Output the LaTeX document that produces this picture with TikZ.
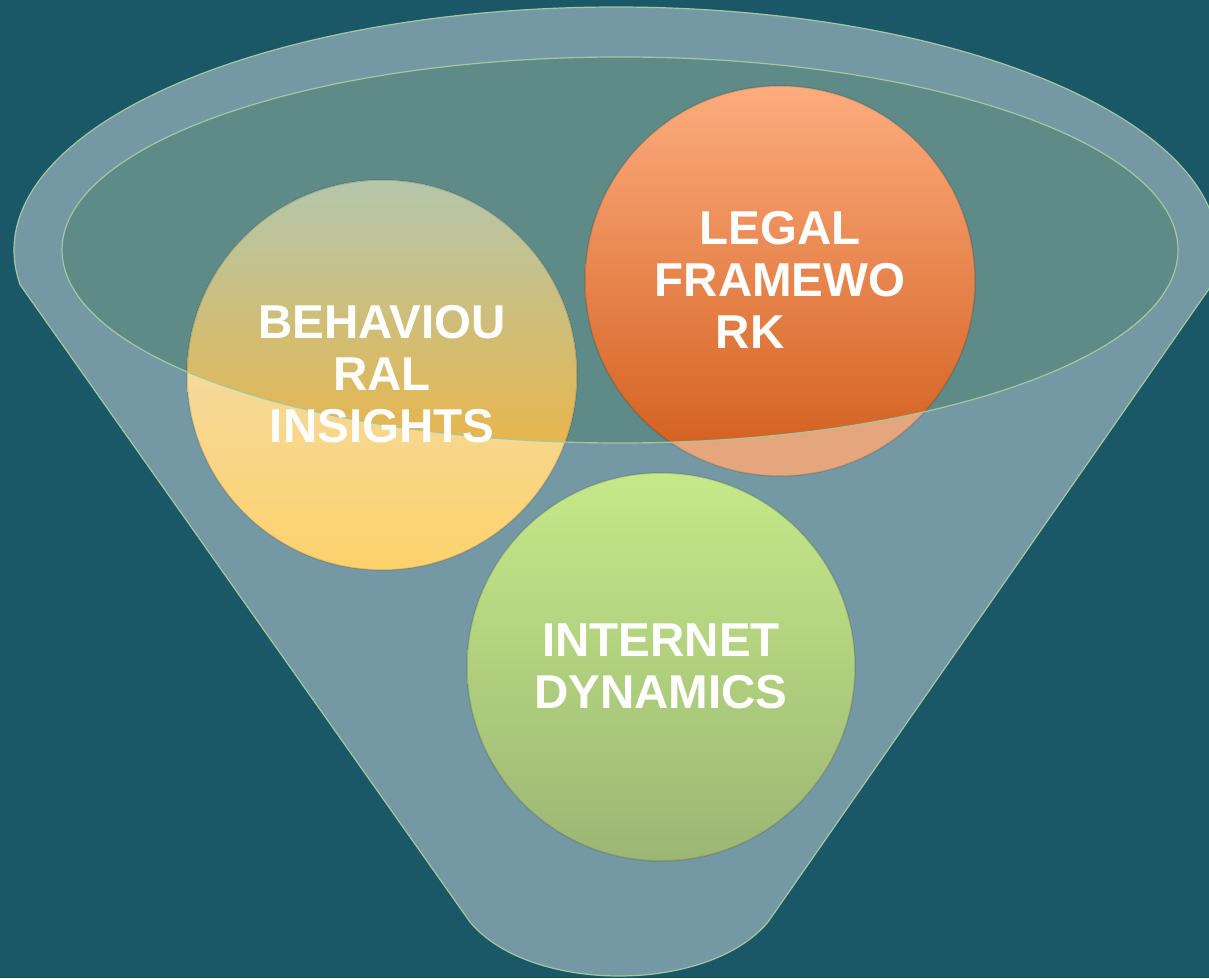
\documentclass[tikz,border=0pt]{standalone}
\usepackage{fontspec}
\setmainfont{Liberation Sans}
\definecolor{bg}{HTML}{1A5767}
\definecolor{funnel}{HTML}{7599A4}
\definecolor{rim}{HTML}{A3C89E}
\definecolor{innerc}{HTML}{5E8A87}
\definecolor{bhT}{HTML}{EEE0C6}
\definecolor{bhM}{HTML}{F3D9A3}
\definecolor{bhB}{HTML}{FDD26C}
\definecolor{biT}{HTML}{B4C7AB}
\definecolor{biM}{HTML}{D8BE84}
\definecolor{biB}{HTML}{FFAE20}
\definecolor{orO}{HTML}{E5A67E}
\definecolor{oiT}{HTML}{FDAC7E}
\definecolor{oiM}{HTML}{EF9260}
\definecolor{oiB}{HTML}{D15C1A}
\definecolor{grT}{HTML}{C5E989}
\definecolor{grM}{HTML}{B3D27F}
\definecolor{grB}{HTML}{9CB673}
\begin{document}
\begin{tikzpicture}[x=1pt,y=1pt,
  lbl/.style={text=white, font=\bfseries\fontsize{47.5}{52}\selectfont, align=center, inner sep=0pt},
  rimline/.style={draw=rim, line width=1.2pt},
  edge/.style={draw=black, draw opacity=0.13, line width=1.5pt}]
\fill[bg] (0,0) rectangle (1209,978);
\useasboundingbox (0,0) rectangle (1209,978);
\clip (0,0) rectangle (1209,978);
% funnel body
\filldraw[fill=funnel, rimline] (20.3,693) -- (470,56) .. controls (530,-16) and (708,-16) .. (768,56) -- (1211.7,693)
  arc[start angle=-8.28, end angle=188.28, x radius=602, y radius=243] -- cycle;
% inner ellipse
\fill[innerc] (620,728) ellipse [x radius=558, y radius=193];
% behavioural circle
\shade[top color=bhT, middle color=bhM, bottom color=bhB] (382,603) circle[radius=195];
\begin{scope}
  \clip (620,728) ellipse [x radius=558, y radius=193];
  \shade[top color=biT, middle color=biM, bottom color=biB] (382,603) circle[radius=195];
  \shade[top color=oiT, middle color=oiM, bottom color=oiB] (780,697) circle[radius=195];
\end{scope}
% legal circle outside part
\begin{scope}[even odd rule]
  \clip (0,0) rectangle (1209,978) (620,728) ellipse [x radius=558, y radius=193];
  \fill[orO] (780,697) circle[radius=195];
\end{scope}
% internet circle
\shade[top color=grT, middle color=grM, bottom color=grB] (661,311) circle[radius=194];
% circle edges
\draw[edge] (382,603) circle[radius=195];
\draw[edge] (780,697) circle[radius=195];
\draw[edge] (661,311) circle[radius=194];
% inner ellipse rim
\draw[rimline] (620,728) ellipse [x radius=558, y radius=193];
% labels
\node[lbl] (beh) at (382,604) {BEHAVIOU\\RAL\\INSIGHTS};
\node[lbl] (leg) at (780,698.5) {LEGAL\\FRAMEWO\\RK\hspace*{60pt}};
\node[lbl] (int) at (661,311.5) {INTERNET\\DYNAMICS};
\end{tikzpicture}
\end{document}
